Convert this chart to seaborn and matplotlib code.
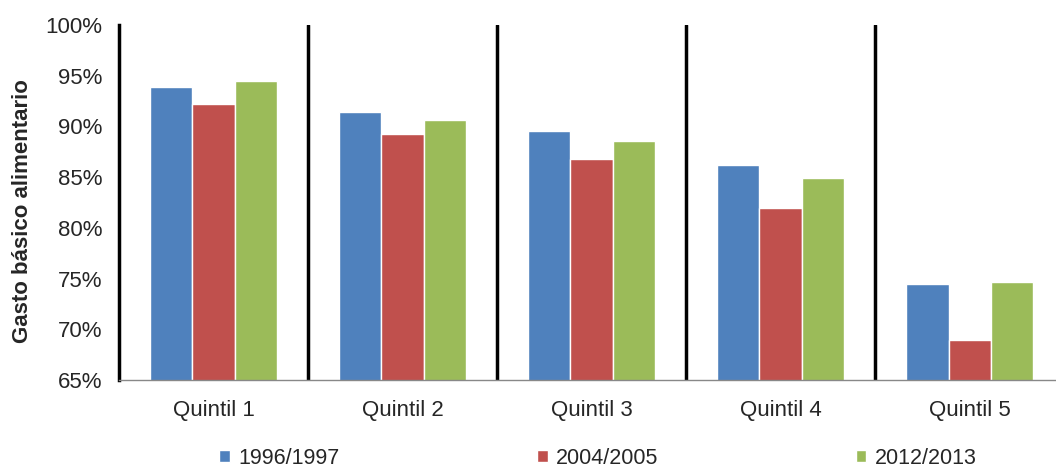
import pandas as pd
import numpy as np
import matplotlib.pyplot as plt
import seaborn as sns
from matplotlib.ticker import PercentFormatter

# data (share of basic food spending, %)
quintiles = ["Quintil 1", "Quintil 2", "Quintil 3", "Quintil 4", "Quintil 5"]
periods = ["1996/1997", "2004/2005", "2012/2013"]
v_1996 = [93.9, 91.4, 89.6, 86.2, 74.5]
v_2004 = [92.2, 89.3, 86.8, 82.0, 69.0]
v_2012 = [94.5, 90.6, 88.6, 84.9, 74.7]
colors = ["#4F81BD", "#C0504D", "#9BBB59"]

df = pd.DataFrame({
    "quintil": quintiles * 3,
    "periodo": np.repeat(periods, len(quintiles)),
    "valor": v_1996 + v_2004 + v_2012,
})

sns.set_style("white")
plt.rcParams["font.family"] = ["Liberation Sans", "DejaVu Sans"]

fig = plt.figure(figsize=(10.56, 4.67), dpi=100)
ax = fig.add_axes([0.1127, 0.186, 0.895, 0.7605])

sns.barplot(data=df, x="quintil", y="valor", hue="periodo", palette=colors,
            width=0.67, edgecolor="white", linewidth=1, saturation=1, ax=ax)

ax.set_ylim(65, 100)
ax.set_yticks(np.arange(65, 101, 5))
ax.yaxis.set_major_formatter(PercentFormatter(decimals=0))
ax.set_xlim(-0.5, len(quintiles) - 0.5)
ax.set_xlabel("")
ax.set_ylabel("Gasto básico alimentario", fontsize=16, fontweight="bold")
ax.yaxis.set_label_coords(-0.091, 0.476)
ax.tick_params(axis="both", labelsize=16, length=0)
ax.tick_params(axis="x", pad=14)
ax.tick_params(axis="y", pad=12)

# category separators
for x in np.arange(0.5, len(quintiles) - 0.5, 1):
    ax.axvline(x, color="black", linewidth=2.5)

for s in ["top", "right"]:
    ax.spines[s].set_visible(False)
ax.spines["left"].set_color("black")
ax.spines["left"].set_linewidth(2.5)
ax.spines["bottom"].set_color("#888888")
ax.spines["bottom"].set_linewidth(1)

ax.legend(loc="upper center", bbox_to_anchor=(0.507, -0.166), ncol=3, frameon=False,
          fontsize=15.5, handlelength=0.5, handleheight=0.5, handletextpad=0.4,
          columnspacing=9.15, borderaxespad=0)

fig.savefig("out.png", dpi=100)
